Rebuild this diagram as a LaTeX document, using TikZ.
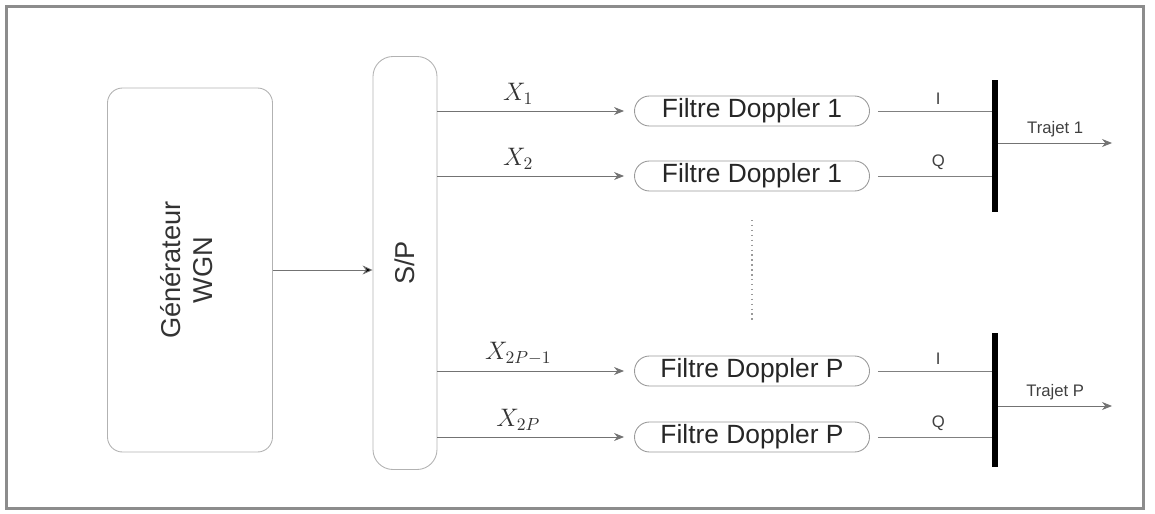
\documentclass[tikz,border=0pt]{standalone}
\usepackage{amsmath}
\usepackage{fontspec}
\setmainfont{Liberation Sans}
\usepackage{graphicx}
\usetikzlibrary{arrows.meta, positioning}

\begin{document}
\begin{tikzpicture}[
  x=0.2mm, y=-0.2mm,
  blk/.style={draw=black!30, rounded corners=3mm, inner sep=0pt, line width=0.5pt,
    font=\fontsize{15.5}{18}\selectfont, text=black!80},
  filt/.style={draw=black!40, rounded corners=3mm, minimum width=47mm, minimum height=6mm,
    inner sep=0pt, line width=0.5pt, font=\fontsize{15}{18}\selectfont, text=black!85},
  bar/.style={fill=black, draw=none, minimum width=1.2mm, inner sep=0pt},
  lbl/.style={font=\fontsize{9.5}{11}\selectfont, text=black!75},
  xlbl/.style={font=\fontsize{14}{16}\selectfont, text=black!80},
  arr/.style={-{Stealth[length=2mm, width=1.6mm]}, draw=black!55, line width=0.5pt},
  ln/.style={draw=black!50, line width=0.5pt}
]
\useasboundingbox (0,0) rectangle (1155,513);
\draw[black!45, line width=0.6mm] (6,6) rectangle (1143,508);

% generator and serial/parallel blocks
\node[blk, minimum width=33mm, minimum height=72.8mm] (gen) at (190,270)
  {\rotatebox{90}{\begin{tabular}{c}Générateur\\WGN\end{tabular}}};
\node[blk, rounded corners=4mm, minimum width=12.8mm, minimum height=82.6mm] (sp) at (405,263)
  {\rotatebox{90}{S/P}};

% Doppler filters
\node[filt] (f1) at (752,111) {Filtre Doppler 1};
\node[filt] (f2) at (752,176) {Filtre Doppler 1};
\node[filt] (f3) at (752,371) {Filtre Doppler P};
\node[filt] (f4) at (752,437) {Filtre Doppler P};

% combining bars
\node[bar, minimum height=26.4mm] (b1) at (995,146) {};
\node[bar, minimum height=26.8mm] (b2) at (995,400) {};
\coordinate (o1) at (1112,143);
\coordinate (o2) at (1112,406);

\coordinate (d1) at (752,220);
\coordinate (d2) at (752,322);

\draw[arr, -{Stealth[length=2mm, width=1.8mm, fill=black]}] (gen.east) -- (gen.east -| sp.west);

\draw[arr, shorten >=2mm] (f1.west -| sp.east) -- (f1.west) node[midway, above, xshift=-3.5mm, xlbl] {$X_1$};
\draw[arr, shorten >=2mm] (f2.west -| sp.east) -- (f2.west) node[midway, above, xshift=-3.5mm, xlbl] {$X_2$};
\draw[arr, shorten >=2mm] (f3.west -| sp.east) -- (f3.west) node[midway, above, xshift=-3.5mm, xlbl] {$X_{2P-1}$};
\draw[arr, shorten >=2mm] (f4.west -| sp.east) -- (f4.west) node[midway, above, xshift=-3.5mm, xlbl] {$X_{2P}$};

\draw[ln, shorten <=1.6mm] (f1.east) -- (f1.east -| b1.west) node[midway, above, xshift=1.5mm, lbl] {I};
\draw[ln, shorten <=1.6mm] (f2.east) -- (f2.east -| b1.west) node[midway, above, xshift=1.5mm, lbl] {Q};
\draw[ln, shorten <=1.6mm] (f3.east) -- (f3.east -| b2.west) node[midway, above, xshift=1.5mm, lbl] {I};
\draw[ln, shorten <=1.6mm] (f4.east) -- (f4.east -| b2.west) node[midway, above, xshift=1.5mm, lbl] {Q};

\draw[arr] (b1.east |- o1) -- (o1) node[midway, above, lbl] {Trajet 1};
\draw[arr] (b2.east |- o2) -- (o2) node[midway, above, lbl] {Trajet P};

\draw[black!40, dotted, line width=0.8pt] (d1) -- (d2);
\end{tikzpicture}
\end{document}
